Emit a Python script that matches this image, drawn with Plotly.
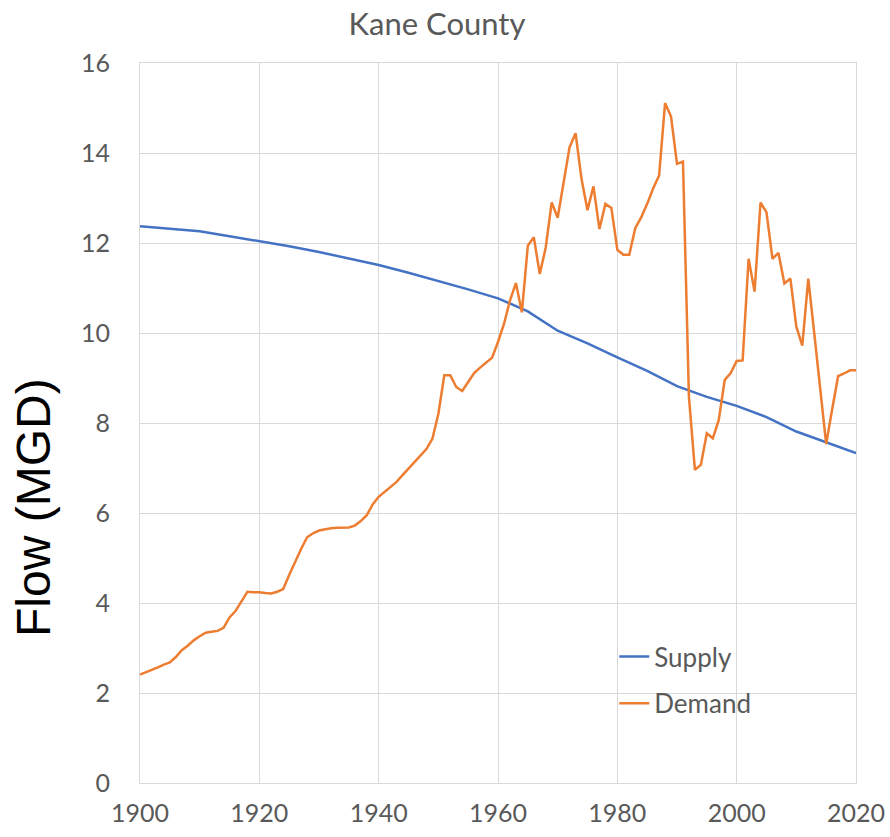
import plotly.graph_objects as go

# Annual demand, 1900-2020 (MGD)
demand_years = list(range(1900, 2021))
demand = [
    2.41, 2.46, 2.52, 2.57, 2.63, 2.68, 2.80, 2.95, 3.05, 3.17,   # 1900s
    3.26, 3.34, 3.36, 3.38, 3.45, 3.68, 3.82, 4.02, 4.25, 4.24,   # 1910s
    4.24, 4.22, 4.21, 4.25, 4.31, 4.62, 4.93, 5.20, 5.46, 5.55,   # 1920s
    5.61, 5.64, 5.66, 5.67, 5.67, 5.68, 5.72, 5.82, 5.95, 6.19,   # 1930s
    6.36, 6.47, 6.58, 6.69, 6.84, 6.98, 7.12, 7.26, 7.42, 7.65,   # 1940s
    8.20, 9.06, 9.06, 8.80, 8.71, 8.91, 9.11, 9.23, 9.34, 9.45,   # 1950s
    9.80, 10.20, 10.72, 11.11, 10.46, 11.94, 12.13, 11.31, 11.90, 12.90,  # 1960s
    12.56, 13.31, 14.13, 14.44, 13.42, 12.73, 13.26, 12.31, 12.87, 12.78,  # 1970s
    11.85, 11.74, 11.74, 12.33, 12.57, 12.87, 13.21, 13.50, 15.11, 14.81,  # 1980s
    13.76, 13.81, 8.58, 6.96, 7.07, 7.77, 7.66, 8.07, 8.96, 9.11,  # 1990s
    9.38, 9.39, 11.65, 10.92, 12.90, 12.68, 11.65, 11.78, 11.10, 11.21,  # 2000s
    10.14, 9.72, 11.21, 10.00, 8.80, 7.53, 8.30, 9.04, 9.10, 9.17,  # 2010s
    9.17,  # 2020
]

# Supply, every five years (MGD)
supply_years = list(range(1900, 2021, 5))
supply = [
    12.37, 12.31, 12.26, 12.15, 12.04, 11.93, 11.80, 11.66, 11.51, 11.34,
    11.16, 10.97, 10.77, 10.48, 10.05, 9.77, 9.46, 9.16, 8.82, 8.58,
    8.38, 8.13, 7.81, 7.57, 7.33,
]

x_ticks = [1900, 1920, 1940, 1960, 1980, 2000, 2020]
y_ticks = [0, 2, 4, 6, 8, 10, 12, 14, 16]

GRID = "#d9d9d9"
TEXT = "#595959"
FONT = "Lato"

W, H = 890, 837
L, R, T, B = 140, 34, 63, 54
PW, PH = W - L - R, H - T - B

fig = go.Figure()
fig.add_trace(go.Scatter(
    x=supply_years, y=supply, name="Supply", mode="lines",
    line=dict(color="#4472C4", width=2.5), legendgroup="s",
))
fig.add_trace(go.Scatter(
    x=demand_years, y=demand, name="Demand", mode="lines",
    line=dict(color="#ED7D31", width=2.5), legendgroup="d",
))

fig.update_layout(
    width=W, height=H,
    margin=dict(l=L, r=R, t=T, b=B, autoexpand=False),
    paper_bgcolor="white", plot_bgcolor="white",
    title=dict(
        text="Kane County", font=dict(family=FONT, size=31, color=TEXT),
        xref="container", x=437 / W, xanchor="center",
        yref="container", y=1 - 24 / H, yanchor="middle",
    ),
    legend=dict(
        x=(620 - L) / PW - 0.008, y=(H - B - 633) / PH, xanchor="left", yanchor="top",
        font=dict(family=FONT, size=26, color=TEXT),
        bgcolor="rgba(0,0,0,0)", traceorder="grouped", tracegroupgap=10,
        itemwidth=30,
    ),
    xaxis=dict(
        range=[1900, 2020], tickvals=x_ticks, automargin=False,
        showgrid=True, gridcolor=GRID, gridwidth=1,
        showline=True, linecolor=GRID, linewidth=1, mirror=True,
        zeroline=False, ticks="", ticklabelstandoff=8,
        tickfont=dict(family=FONT, size=25, color=TEXT),
    ),
    yaxis=dict(
        range=[0, 16], tickvals=y_ticks, automargin=False,
        showgrid=True, gridcolor=GRID, gridwidth=1,
        showline=True, linecolor=GRID, linewidth=1, mirror=True,
        zeroline=False, ticks="", ticklabelstandoff=24,
        tickfont=dict(family=FONT, size=25, color=TEXT),
    ),
    annotations=[dict(
        text="Flow (MGD)", textangle=-90, showarrow=False,
        xref="paper", x=(33 - L) / PW, xanchor="center",
        yref="paper", y=(H - B - 508) / PH, yanchor="middle",
        font=dict(family="Liberation Sans, Arial", size=48, color="black"),
    )],
)

fig.write_html("out.html")
